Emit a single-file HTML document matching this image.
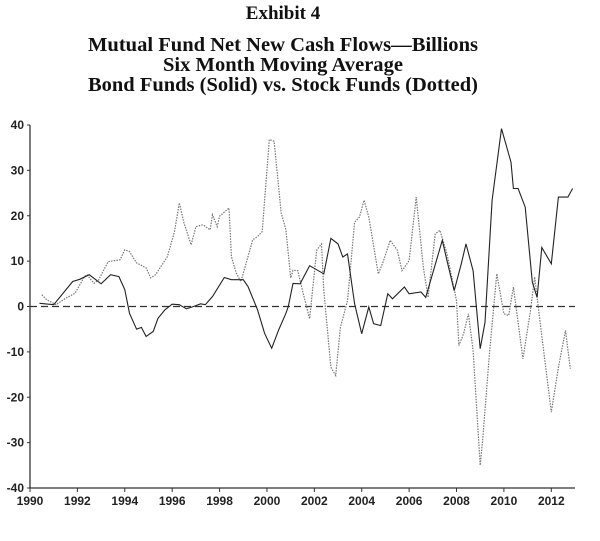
<!DOCTYPE html>
<html><head><meta charset="utf-8"><style>
html,body{margin:0;padding:0;background:#fff;}
svg{display:block;}
.t{font-family:"Liberation Serif",serif;font-weight:bold;font-size:20px;fill:#111;}
.tk{font-family:"Liberation Sans",sans-serif;font-weight:bold;font-size:12px;fill:#222;}
</style></head><body>
<svg id="chart" width="600" height="541" viewBox="0 0 600 541">
<text class="t" x="283" y="19" text-anchor="middle" style="font-size:19px">Exhibit 4</text>
<text class="t" x="283" y="51" text-anchor="middle" textLength="390" lengthAdjust="spacingAndGlyphs">Mutual Fund Net New Cash Flows—Billions</text>
<text class="t" x="283" y="71" text-anchor="middle" textLength="240" lengthAdjust="spacingAndGlyphs">Six Month Moving Average</text>
<text class="t" x="283" y="91" text-anchor="middle" textLength="390" lengthAdjust="spacingAndGlyphs">Bond Funds (Solid) vs. Stock Funds (Dotted)</text>
<g id="axes"></g>
<g id="series"></g>
</svg>
<script>
const yTicks=[40,30,20,10,0,-10,-20,-30,-40];
const xTicks=[1990,1992,1994,1996,1998,2000,2002,2004,2006,2008,2010,2012];
const bondYears=[1990.4,1991,1991.8,1992.1,1992.5,1993,1993.4,1993.75,1994,1994.2,1994.5,1994.7,1994.9,1995.2,1995.4,1995.7,1996,1996.3,1996.6,1996.9,1997.2,1997.4,1997.7,1998.2,1998.5,1999,1999.2,1999.6,1999.9,2000.2,2000.5,2000.8,2000.9,2001.1,2001.4,2001.8,2002.4,2002.7,2003,2003.2,2003.4,2003.7,2004,2004.3,2004.5,2004.8,2005.1,2005.3,2005.8,2006,2006.5,2006.7,2007.4,2007.6,2007.9,2008.2,2008.4,2008.7,2009,2009.2,2009.5,2009.9,2010.3,2010.4,2010.6,2010.9,2011.2,2011.4,2011.6,2012,2012.3,2012.7,2012.9];
const bondValues=[0.7,0.4,5.5,6,7,5,7,6.6,3.7,-1.5,-5,-4.6,-6.6,-5.5,-2.6,-0.7,0.5,0.4,-0.5,0,0.6,0.4,2.2,6.4,5.9,5.9,4.4,-0.7,-5.9,-9.2,-5.1,-1.5,0,5.1,5,9,7.2,15,13.8,10.9,11.6,0.6,-6,-0.1,-3.8,-4.2,2.8,1.7,4.3,2.8,3.2,2,14.6,10.1,3.5,9.4,13.8,7.9,-9.3,-3.5,23.4,39.2,31.8,26,26,21.9,5.4,2,13,9.4,24.1,24.1,26];
const stockYears=[1990.5,1990.7,1991.1,1991.5,1991.9,1992.3,1992.4,1992.7,1992.9,1993.3,1993.8,1994,1994.2,1994.5,1994.9,1995.1,1995.3,1995.8,1996.1,1996.3,1996.5,1996.8,1997,1997.3,1997.6,1997.7,1997.9,1998,1998.4,1998.5,1998.7,1998.9,1999.2,1999.4,1999.6,1999.8,2000.1,2000.3,2000.6,2000.8,2001,2001.1,2001.3,2001.5,2001.8,2002.1,2002.3,2002.4,2002.7,2002.9,2003.1,2003.4,2003.7,2003.9,2004.1,2004.3,2004.7,2004.9,2005.2,2005.5,2005.7,2006,2006.3,2006.6,2006.8,2007.1,2007.3,2007.6,2008,2008.1,2008.3,2008.5,2008.7,2009,2009.1,2009.4,2009.7,2010,2010.2,2010.4,2010.8,2011.1,2011.3,2011.5,2012,2012.3,2012.6,2012.8];
const stockValues=[2.6,1.5,0.4,1.8,2.9,6.6,7,5.1,5.9,9.9,10.3,12.5,12.1,9.6,8.5,6.3,7,11,16.5,22.8,18.4,13.6,17.6,18,16.9,20.2,17.6,19.9,21.7,11,7.4,5.5,11,14.7,15.4,16.5,36.8,36.4,20.6,16.9,6.3,8,7.9,3.5,-2.7,12.4,13.8,3.5,-13.4,-15.2,-4.6,1.3,18.6,19.7,23.4,19.7,7.2,9.8,14.6,12.4,7.9,10.1,24.1,8.7,2,16,16.8,11.6,1.3,-8.6,-6,-1.6,-9.7,-35,-29.5,-9.7,7.2,-1.6,-2,4.3,-11.5,-1.6,6.5,-2.4,-23.3,-13.4,-5.3,-13.7];

const NS="http://www.w3.org/2000/svg";
const X0=30,X1=575,Y0=125,Y1=488;
function sx(yr){return X0+(yr-1990)*(X1-X0)/23;}
function sy(v){return Y0+(40-v)*(Y1-Y0)/80;}
function mk(tag,attrs,parent){const e=document.createElementNS(NS,tag);for(const k in attrs)e.setAttribute(k,attrs[k]);parent.appendChild(e);return e;}
const axes=document.getElementById('axes');
let e;
e=mk('line',{x1:X0,y1:Y0,x2:X0,y2:Y1,stroke:'#333','stroke-width':1.3},axes);


e=mk('line',{x1:X0,y1:Y1,x2:X1,y2:Y1,stroke:'#333','stroke-width':1.3},axes);


e=mk('line',{x1:X0,y1:sy(0),x2:X1,y2:sy(0),stroke:'#333','stroke-width':1.3,'stroke-dasharray':'7,4'},axes);


yTicks.forEach(v=>{
  const y=sy(v);
  const t=mk('line',{x1:X0-3,y1:y,x2:X0,y2:y,stroke:'#333'},axes);
  
  
  const l=mk('text',{x:X0-6,y:y+4,'text-anchor':'end',class:'tk'},axes);
  l.textContent=v;
  
  
});
xTicks.forEach(yr=>{
  const x=sx(yr);
  const t=mk('line',{x1:x,y1:Y1,x2:x,y2:Y1+4,stroke:'#333'},axes);
  
  
  const l=mk('text',{x:x,y:Y1+17,'text-anchor':'middle',class:'tk'},axes);
  l.textContent=yr;
  
  
});
const ser=document.getElementById('series');
function pts(ys,vs){return ys.map((y,i)=>sx(y).toFixed(1)+','+sy(vs[i]).toFixed(1)).join(' ');}
e=mk('polyline',{points:pts(stockYears,stockValues),fill:'none',stroke:'#777','stroke-width':1.2,'stroke-dasharray':'1.5,1.2'},ser);


e=mk('polyline',{points:pts(bondYears,bondValues),fill:'none',stroke:'#222','stroke-width':1.1},ser);


</script>
</body></html>
